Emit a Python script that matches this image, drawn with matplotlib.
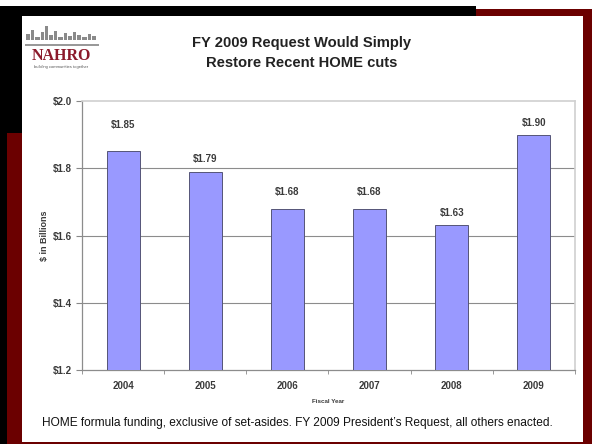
import matplotlib
matplotlib.use("Agg")
import matplotlib.pyplot as plt
from matplotlib.patches import Rectangle
import numpy as np

years = ["2004", "2005", "2006", "2007", "2008", "2009"]
values = [1.85, 1.79, 1.68, 1.68, 1.63, 1.90]
labels = ["$1.85", "$1.79", "$1.68", "$1.68", "$1.63", "$1.90"]
yticks = [1.2, 1.4, 1.6, 1.8, 2.0]
ytick_labels = ["$1.2", "$1.4", "$1.6", "$1.8", "$2.0"]
label_offsets = [26, 13, 17, 17, 12, 12]  # pixels above bar top (style)

plt.rcParams['font.family'] = ['Liberation Sans', 'DejaVu Sans']

W, H = 592, 444
fig = plt.figure(figsize=(W / 100, H / 100), dpi=100)
fig.patch.set_facecolor("white")

def rect(x, y, w, h, color, z=0):
    fig.patches.append(Rectangle((x / W, 1 - (y + h) / H), w / W, h / H,
                                 transform=fig.transFigure, facecolor=color,
                                 edgecolor="none", zorder=z))

dark_red = "#6b0000"
# frame
rect(0, 6, 476, 12, "black")
rect(476, 9, 116, 10, dark_red)
rect(0, 6, 22, 438, "black")
rect(7, 133, 15, 311, dark_red)
rect(583, 9, 9, 435, dark_red)
rect(7, 442, 585, 2, dark_red)
rect(22, 16, 561, 426, "white", 1)

# logo skyline (decorative)
sky = [(26, 30, 4, 10), (31, 26, 3, 14), (35, 33, 5, 7), (41, 28, 3, 12),
       (45, 22, 3, 18), (49, 31, 4, 9), (54, 27, 3, 13), (58, 33, 5, 7),
       (64, 29, 3, 11), (68, 32, 4, 8), (73, 28, 3, 12), (77, 31, 4, 9),
       (82, 33, 5, 7), (88, 30, 3, 10), (92, 32, 4, 8)]
for (x, y, w, h) in sky:
    rect(x, y + 4, w, h - 4, "#8a8a8a", 2)
rect(25, 44, 74, 2, "#999999", 2)
fig.text(61 / W, 1 - 56 / H, "NAHRO", ha="center", va="center", fontsize=11.5,
         fontweight="bold", family=["Liberation Serif", "DejaVu Serif"],
         color="#8b1a2b", zorder=3)
fig.text(61 / W, 1 - 67 / H, "building communities together", ha="center",
         va="center", fontsize=3, color="#555555", zorder=3)

# title
fig.text(302 / W, 1 - 43 / H, "FY 2009 Request Would Simply", ha="center",
         va="center", fontsize=10.6, fontweight="bold", color="#222222", zorder=3)
fig.text(302 / W, 1 - 63 / H, "Restore Recent HOME cuts", ha="center",
         va="center", fontsize=10.6, fontweight="bold", color="#222222", zorder=3)

# axes
ax = fig.add_axes([82 / W, 1 - 370 / H, (575 - 82) / W, (370 - 101) / H], zorder=4)
ax.set_facecolor("white")
x = np.arange(len(years))
ax.bar(x, values, width=0.4, color="#9999ff", edgecolor="#555577", linewidth=0.7,
       zorder=3)
ax.set_xlim(-0.5, len(years) - 0.5)
ax.set_ylim(yticks[0], yticks[-1])
ax.set_yticks(yticks)
ax.set_yticklabels(ytick_labels, fontsize=7, fontweight="bold", color="#3a3a3a")
ax.set_xticks(x)
ax.set_xticklabels(years, fontsize=7, fontweight="bold", color="#3a3a3a")
ax.tick_params(axis="x", length=0, pad=8)
ax.set_xticks(np.arange(len(years) + 1) - 0.5, minor=True)
ax.tick_params(axis="x", which="minor", length=3, color="#888888", direction="out")
ax.tick_params(axis="y", length=4, color="#888888", direction="out", pad=3)
for yv in yticks[1:-1]:
    ax.axhline(yv, color="#8c8c8c", linewidth=0.8, zorder=1)
for side in ["left", "bottom"]:
    ax.spines[side].set_color("#8c8c8c")
    ax.spines[side].set_linewidth(0.9)
for side in ["top", "right"]:
    ax.spines[side].set_color("#d0d0d0")
    ax.spines[side].set_linewidth(1.2)

for xi, v, lab, off in zip(x, values, labels, label_offsets):
    ax.annotate(lab, (xi, v), xytext=(0, off * 0.72), textcoords="offset points",
                ha="center", va="center", fontsize=7, fontweight="bold",
                color="#3a3a3a")

ax.set_ylabel("$ in Billions", fontsize=6.5, fontweight="bold", color="#3a3a3a",
              labelpad=3)
ax.set_xlabel("Fiscal Year", fontsize=4.5, fontweight="bold", color="#3a3a3a",
              labelpad=6)

fig.text(297.5 / W, 1 - 423 / H,
         "HOME formula funding, exclusive of set-asides. FY 2009 President\u2019s Request, all others enacted.",
         ha="center", va="center", fontsize=8.55, color="#111111", zorder=3)

fig.savefig("out.png", dpi=100)
